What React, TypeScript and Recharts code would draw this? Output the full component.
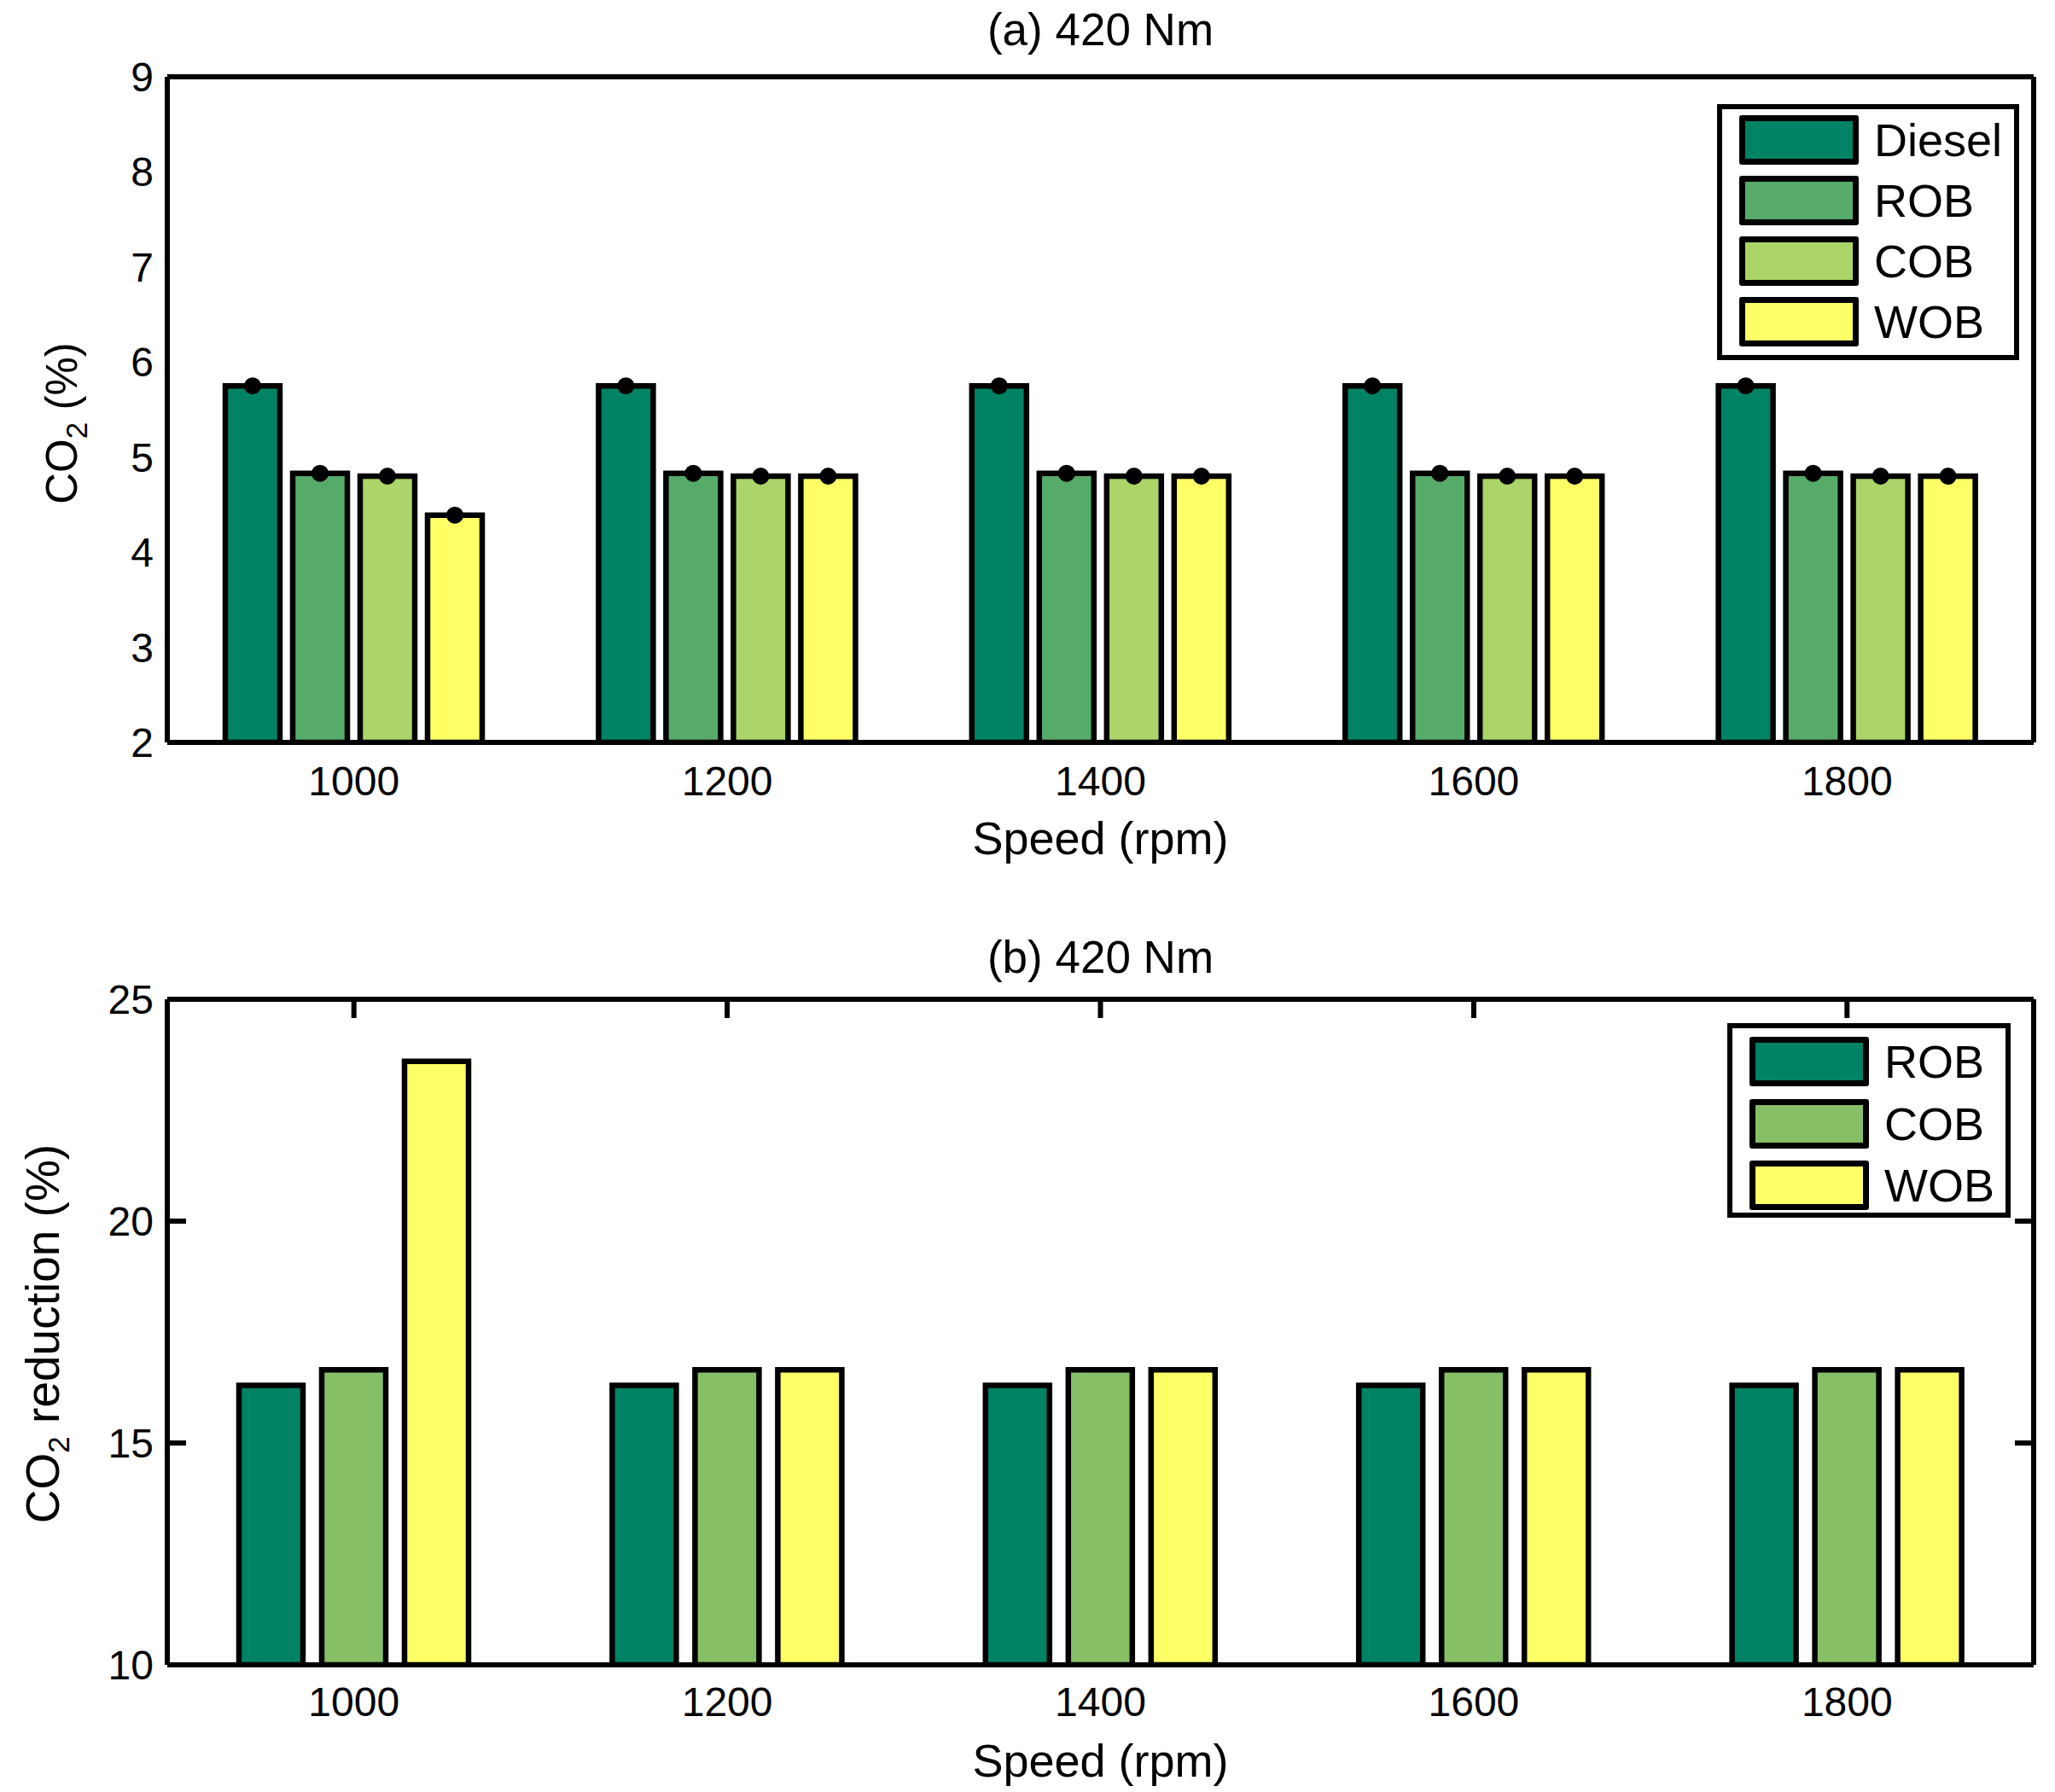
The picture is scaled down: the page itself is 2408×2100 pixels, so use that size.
import React from 'react';
import { BarChart, Bar, XAxis, YAxis, Legend } from 'recharts';

const FONT = '"Liberation Sans", Arial, Helvetica, sans-serif';

// ---- data ----
const speeds = ['1000', '1200', '1400', '1600', '1800'];
const seriesA = ['Diesel', 'ROB', 'COB', 'WOB'];
const seriesB = ['ROB', 'COB', 'WOB'];
const co2Diesel = [5.75, 5.75, 5.75, 5.75, 5.75];
const co2ROB = [4.83, 4.83, 4.83, 4.83, 4.83];
const co2COB = [4.8, 4.8, 4.8, 4.8, 4.8];
const co2WOB = [4.39, 4.8, 4.8, 4.8, 4.8];
const redROB = [16.3, 16.3, 16.3, 16.3, 16.3];
const redCOB = [16.65, 16.65, 16.65, 16.65, 16.65];
const redWOB = [23.6, 16.65, 16.65, 16.65, 16.65];
const ticksA = [2, 3, 4, 5, 6, 7, 8, 9];
const ticksB = [10, 15, 20, 25];

const dataA = speeds.map((s, i) => ({
  speed: s,
  Diesel: co2Diesel[i],
  ROB: co2ROB[i],
  COB: co2COB[i],
  WOB: co2WOB[i],
}));
const dataB = speeds.map((s, i) => ({
  speed: s,
  ROB: redROB[i],
  COB: redCOB[i],
  WOB: redWOB[i],
}));

const colA: Record<string, string> = { Diesel: '#008264', ROB: '#57AB69', COB: '#ABD568', WOB: '#FFFF66' };
const colB: Record<string, string> = { ROB: '#008264', COB: '#86BF65', WOB: '#FFFF66' };

const axisLine = { stroke: '#000', strokeWidth: 6 };
const tickLineStyle = { stroke: '#000', strokeWidth: 6 };
const tickFont = { fontSize: 48, fill: '#000', fontFamily: FONT };
const noTick = () => <g />;
const LABEL_GAP = 16;
const INNER_TICK = 22;

const dotLabel = (props: any) => {
  const vb = props.viewBox || {};
  const x = vb.x ?? props.x;
  const y = vb.y ?? props.y;
  const w = vb.width ?? props.width;
  if (x == null || y == null || w == null) return null;
  return <circle cx={x + w / 2} cy={y} r={10} fill="#000" />;
};

const makeLegend = (order: string[], w: number, h: number, top0: number, rowStep: number) => (props: any) => {
  const payload = [...(props.payload || [])].sort(
    (a: any, b: any) => order.indexOf(String(a.value)) - order.indexOf(String(b.value))
  );
  return (
    <div
      style={{
        width: w,
        height: h,
        border: '6px solid #000',
        boxSizing: 'border-box',
        background: '#fff',
        position: 'relative',
        fontFamily: FONT,
      }}
    >
      {payload.map((p: any, i: number) => (
        <div key={p.value} style={{ position: 'absolute', left: 20, top: top0 + i * rowStep, height: 58, display: 'flex', alignItems: 'center' }}>
          <div
            style={{
              width: 140,
              height: 58,
              border: '7px solid #000',
              borderRadius: 3,
              boxSizing: 'border-box',
              background: p.color,
            }}
          />
          <span style={{ marginLeft: 18, fontSize: 54, color: '#000', lineHeight: '58px' }}>{p.value}</span>
        </div>
      ))}
    </div>
  );
};

const abs = (left: number, top: number, extra: React.CSSProperties = {}): React.CSSProperties => ({
  position: 'absolute',
  left,
  top,
  transform: 'translate(-50%, -50%)',
  whiteSpace: 'nowrap',
  fontSize: 50,
  lineHeight: 1,
  color: '#000',
  fontFamily: FONT,
  pointerEvents: 'none',
  ...extra,
});

const sub = <span style={{ fontSize: 35, position: 'relative', top: 12 }}>2</span>;

export default function App() {
  const cx = (196 + 2383) / 2;
  return (
    <div style={{ position: 'absolute', left: 0, top: 0, width: 2408, height: 2100, background: '#fff', fontFamily: FONT }}>
      <div style={{ position: 'absolute', left: 0, top: 0 }}>
        <BarChart width={2408} height={1050} data={dataA} margin={{ top: 90, right: 25, bottom: 0, left: 0 }} barSize={64} barGap={15}>
          <XAxis xAxisId="b" dataKey="speed" height={180} axisLine={axisLine} tickLine={false} tickSize={0} tickMargin={28} tick={tickFont} interval={0} />
          <XAxis xAxisId="t" dataKey="speed" orientation="top" mirror height={1} axisLine={axisLine} tickLine={false} tick={false} />
          <YAxis yAxisId="l" type="number" domain={[2, 9]} ticks={ticksA} width={196} axisLine={axisLine} tickLine={false} tickSize={0} tickMargin={LABEL_GAP} tick={tickFont} allowDataOverflow interval={0} />
          <YAxis yAxisId="r" type="number" orientation="right" mirror width={1} domain={[2, 9]} ticks={ticksA} axisLine={axisLine} tickLine={false} tick={false} allowDataOverflow />
          <Legend
            layout="vertical"
            align="center"
            verticalAlign="middle"
            wrapperStyle={{ left: 2012, top: 122, width: 354, height: 300 }}
            content={makeLegend(seriesA, 354, 300, 7, 71)}
          />
          {seriesA.map((k) => (
            <Bar key={k} xAxisId="b" yAxisId="l" dataKey={k} fill={colA[k]} stroke="#000" strokeWidth={6.5} isAnimationActive={false} label={dotLabel} />
          ))}
        </BarChart>
      </div>
      <div style={{ position: 'absolute', left: 0, top: 1050 }}>
        <BarChart width={2408} height={1050} data={dataB} margin={{ top: 121, right: 25, bottom: 0, left: 0 }} barSize={75} barGap={22}>
          <XAxis xAxisId="b" dataKey="speed" height={149} axisLine={axisLine} tickLine={false} tickSize={0} tickMargin={26} tick={tickFont} interval={0} />
          <XAxis xAxisId="t" dataKey="speed" orientation="top" mirror height={1} axisLine={axisLine} tickLine={tickLineStyle} tickSize={INNER_TICK} tick={noTick} interval={0} />
          <YAxis yAxisId="l" type="number" domain={[10, 25]} ticks={ticksB} width={196} axisLine={axisLine} tickLine={false} tickSize={0} tickMargin={LABEL_GAP} tick={tickFont} allowDataOverflow interval={0} />
          <YAxis yAxisId="lt" type="number" orientation="left" mirror width={1} domain={[10, 25]} ticks={ticksB} axisLine={axisLine} tickLine={tickLineStyle} tickSize={INNER_TICK} tick={noTick} allowDataOverflow interval={0} />
          <YAxis yAxisId="r" type="number" orientation="right" mirror width={1} domain={[10, 25]} ticks={ticksB} axisLine={axisLine} tickLine={tickLineStyle} tickSize={INNER_TICK} tick={noTick} allowDataOverflow interval={0} />
          <Legend
            layout="vertical"
            align="center"
            verticalAlign="middle"
            wrapperStyle={{ left: 2024, top: 149, width: 332, height: 228 }}
            content={makeLegend(seriesB, 332, 228, 10, 72.5)}
          />
          {seriesB.map((k) => (
            <Bar key={k} xAxisId="b" yAxisId="l" dataKey={k} fill={colB[k]} stroke="#000" strokeWidth={6.5} isAnimationActive={false} />
          ))}
        </BarChart>
      </div>
      <div style={abs(cx, 34, { fontSize: 53 })}>(a) 420 Nm</div>
      <div style={abs(cx, 982, { fontSize: 54 })}>Speed (rpm)</div>
      <div style={abs(72, 496, { transform: 'translate(-50%, -50%) rotate(-90deg)', fontSize: 51 })}>CO{sub} (%)</div>
      <div style={abs(cx, 1121, { fontSize: 53 })}>(b) 420 Nm</div>
      <div style={abs(cx, 2063, { fontSize: 54 })}>Speed (rpm)</div>
      <div style={abs(50, 1563, { transform: 'translate(-50%, -50%) rotate(-90deg)', fontSize: 55 })}>CO{sub} reduction (%)</div>
    </div>
  );
}
